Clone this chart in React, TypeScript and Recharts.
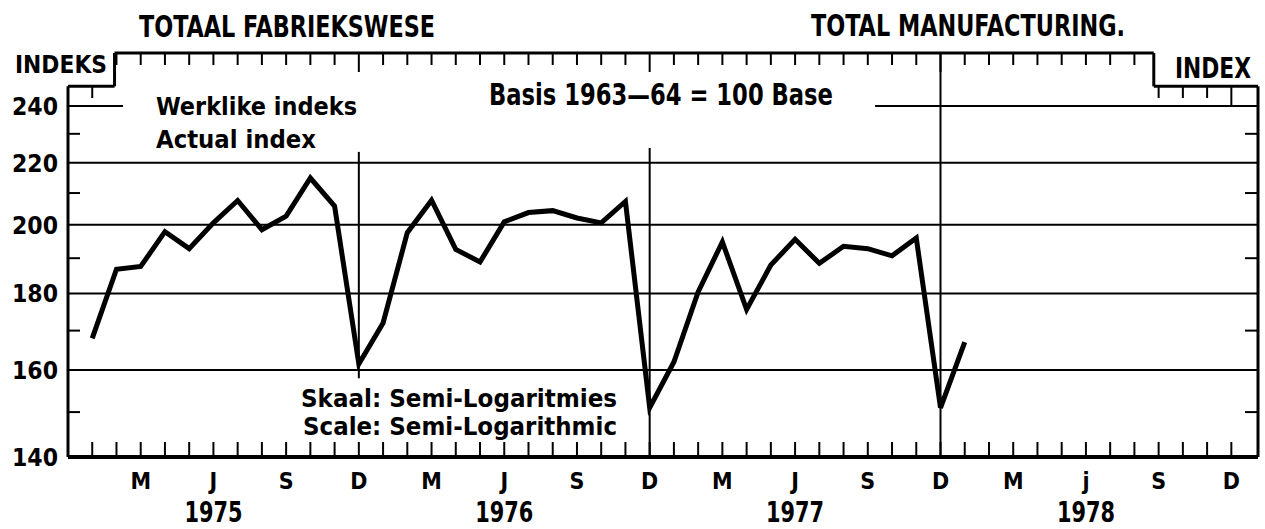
import React from 'react'
import { LineChart, Line, XAxis, YAxis, ReferenceLine } from 'recharts'

// monthly index, Jan 1975 .. Jan 1978 (base 1963-64 = 100)
const startYear = 1975
const indexValues = [
  168.0, 186.8, 187.6, 197.9, 192.8, 200.6, 207.6, 198.5, 202.7, 214.9, 205.8, 161.5,
  172.0, 197.6, 207.7, 192.6, 188.9, 200.9, 203.8, 204.4, 202.1, 200.6, 207.3, 151.0,
  162.0, 180.4, 194.8, 175.6, 188.0, 195.6, 188.5, 193.5, 192.8, 190.7, 196.0, 151.0,
  167.0,
]
const quarterLabels: Record<number, string[]> = {
  1975: ['M', 'J', 'S', 'D'],
  1976: ['M', 'J', 'S', 'D'],
  1977: ['M', 'J', 'S', 'D'],
  1978: ['M', 'j', 'S', 'D'],
}
const majorTicks = [140, 160, 180, 200, 220, 240]
const minorTicks = [150, 170, 190, 210, 230]
const gridValues = [160, 180, 200, 220]

const months = Array.from({ length: 48 }, (_, i) => i)
const data = indexValues.map((v, i) => ({ m: i, v }))

const FONT = '"Liberation Sans Narrow", "DejaVu Sans Condensed", Roboto, sans-serif'
const Y_MIN = 140
const Y_MAX = 260.4
const X_MIN = -1
const X_MAX = 48.1
const STEP_Y = 247.4
const LEFT_STEP = 0.92
const RIGHT_STEP = 43.8
const STEP_DROP = 33

function BottomTick(props: any) {
  const { x, y, payload } = props
  const m = payload.value as number
  const mon = m % 12
  const yr = startYear + Math.floor(m / 12)
  const q = [2, 5, 8, 11].indexOf(mon)
  return (
    <g>
      <line x1={x} x2={x} y1={y} y2={y - 15} stroke="#000" strokeWidth={2} />
      {q >= 0 && (
        <text x={x} y={y + 32} textAnchor="middle" fontFamily={FONT} fontWeight="bold" fontSize={23} fill="#000">
          {quarterLabels[yr][q]}
        </text>
      )}
      {mon === 5 && (
        <text
          x={x - 29}
          y={y + 65}
          textLength={58}
          lengthAdjust="spacingAndGlyphs"
          fontFamily={FONT}
          fontWeight="bold"
          fontSize={28}
          fill="#000"
        >
          {yr}
        </text>
      )}
    </g>
  )
}

function TopTick(props: any) {
  const { x, y, payload } = props
  const m = payload.value as number
  const onStep = m < LEFT_STEP || m > RIGHT_STEP
  const y0 = onStep ? y + STEP_DROP : y
  const len = m % 12 === 11 ? 19 : 12
  return <line x1={x} x2={x} y1={y0} y2={y0 + len} stroke="#000" strokeWidth={2} />
}

function LeftTick(props: any) {
  const { x, y, payload } = props
  const v = payload.value as number
  if (majorTicks.includes(v)) {
    return (
      <text
        x={x - 56}
        y={y + 9}
        textLength={46}
        lengthAdjust="spacingAndGlyphs"
        fontFamily={FONT}
        fontWeight="bold"
        fontSize={25}
        fill="#000"
      >
        {v}
      </text>
    )
  }
  return <line x1={x} x2={x + 12} y1={y} y2={y} stroke="#000" strokeWidth={2} />
}

function RightTick(props: any) {
  const { x, y, payload } = props
  const v = payload.value as number
  if (!minorTicks.includes(v)) return <g />
  return <line x1={x} x2={x - 13} y1={y} y2={y} stroke="#000" strokeWidth={2} />
}

const framePath = [
  { x: X_MIN, y: Y_MIN },
  { x: X_MIN, y: STEP_Y },
  { x: LEFT_STEP, y: STEP_Y },
  { x: LEFT_STEP, y: Y_MAX },
  { x: RIGHT_STEP, y: Y_MAX },
  { x: RIGHT_STEP, y: STEP_Y },
  { x: X_MAX, y: STEP_Y },
  { x: X_MAX, y: Y_MIN },
]

type TxtProps = { x: number; y: number; w: number; size: number; children: React.ReactNode }
function Txt({ x, y, w, size, children }: TxtProps) {
  return (
    <text x={x} y={y} textLength={w} lengthAdjust="spacingAndGlyphs" fontFamily={FONT} fontWeight="bold" fontSize={size} fill="#000">
      {children}
    </text>
  )
}

export default function App() {
  const ax = { xAxisId: 'b', yAxisId: 'l' }
  return (
    <div style={{ position: 'relative', width: 1265, height: 529, overflow: 'hidden', background: '#fff' }}>
      <style>{'body{margin:0}'}</style>
      <LineChart width={1265} height={529} data={data} margin={{ top: 0, right: 0, bottom: 0, left: 0 }}>
        <XAxis
          xAxisId="b"
          dataKey="m"
          type="number"
          domain={[X_MIN, X_MAX]}
          allowDataOverflow
          ticks={months}
          interval={0}
          height={72}
          tickSize={0}
          tickMargin={0}
          tickLine={false}
          axisLine={{ stroke: '#000', strokeWidth: 4 }}
          tick={<BottomTick />}
        />
        <XAxis
          xAxisId="t"
          orientation="top"
          dataKey="m"
          type="number"
          domain={[X_MIN, X_MAX]}
          allowDataOverflow
          ticks={months}
          interval={0}
          height={53}
          tickSize={0}
          tickMargin={0}
          tickLine={false}
          axisLine={false}
          tick={<TopTick />}
        />
        <YAxis
          yAxisId="l"
          type="number"
          scale="log"
          domain={[Y_MIN, Y_MAX]}
          allowDataOverflow
          ticks={[...majorTicks, ...minorTicks].sort((a, b) => a - b)}
          interval={0}
          width={68}
          tickSize={0}
          tickMargin={0}
          tickLine={false}
          axisLine={false}
          tick={<LeftTick />}
        />
        <YAxis
          yAxisId="r"
          orientation="right"
          type="number"
          scale="log"
          domain={[Y_MIN, Y_MAX]}
          allowDataOverflow
          ticks={minorTicks}
          interval={0}
          width={7}
          tickSize={0}
          tickMargin={0}
          tickLine={false}
          axisLine={false}
          tick={<RightTick />}
        />

        {gridValues.map((g) => (
          <ReferenceLine key={g} {...ax} y={g} stroke="#000" strokeWidth={2} />
        ))}
        {/* 240 grid line is broken by the legend text */}
        <ReferenceLine {...ax} segment={[{ x: X_MIN, y: 240 }, { x: 1.27, y: 240 }]} stroke="#000" strokeWidth={2} ifOverflow="visible" />
        <ReferenceLine {...ax} segment={[{ x: 32.3, y: 240 }, { x: X_MAX, y: 240 }]} stroke="#000" strokeWidth={2} ifOverflow="visible" />

        {/* year separators */}
        <ReferenceLine {...ax} segment={[{ x: 11, y: 223.7 }, { x: 11, y: 158 }]} stroke="#000" strokeWidth={2} ifOverflow="visible" />
        <ReferenceLine {...ax} segment={[{ x: 23, y: 225 }, { x: 23, y: Y_MIN }]} stroke="#000" strokeWidth={2} ifOverflow="visible" />
        <ReferenceLine {...ax} segment={[{ x: 35, y: Y_MAX }, { x: 35, y: Y_MIN }]} stroke="#000" strokeWidth={2} ifOverflow="visible" />

        {framePath.slice(1).map((p, i) => (
          <ReferenceLine key={'f' + i} {...ax} segment={[framePath[i], p]} stroke="#000" strokeWidth={3} ifOverflow="visible" />
        ))}

        <Line
          {...ax}
          type="linear"
          dataKey="v"
          stroke="#000"
          strokeWidth={5}
          strokeLinejoin="miter"
          dot={false}
          isAnimationActive={false}
        />
      </LineChart>

      <svg width={1265} height={529} style={{ position: 'absolute', left: 0, top: 0, pointerEvents: 'none' }}>
        <Txt x={139} y={37} w={296} size={30}>TOTAAL FABRIEKSWESE</Txt>
        <Txt x={811} y={36} w={314} size={30}>TOTAL MANUFACTURING.</Txt>
        <Txt x={15} y={73} w={92} size={25}>INDEKS</Txt>
        <Txt x={1175} y={78} w={76} size={29}>INDEX</Txt>
        <Txt x={156} y={115} w={201} size={24}>Werklike indeks</Txt>
        <Txt x={156} y={148} w={160} size={24}>Actual index</Txt>
        <Txt x={489} y={105} w={344} size={30}>Basis 1963—64 = 100 Base</Txt>
        <Txt x={301} y={407} w={316} size={24}>Skaal: Semi-Logaritmies</Txt>
        <Txt x={303} y={435} w={314} size={24}>Scale: Semi-Logarithmic</Txt>
      </svg>
    </div>
  )
}
